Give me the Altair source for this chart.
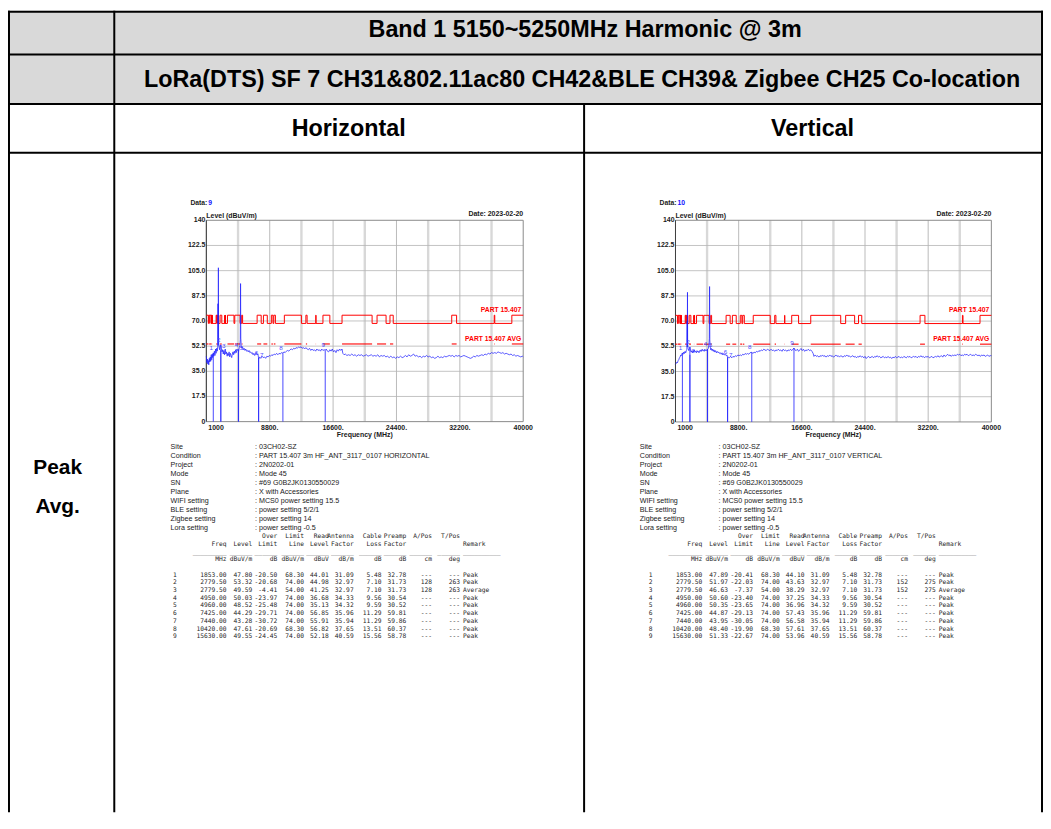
import altair as alt
import pandas as pd

# ---------------------------------------------------------------- data
TITLE_1 = "Band 1 5150~5250MHz Harmonic @ 3m"
TITLE_2 = "LoRa(DTS) SF 7 CH31&802.11ac80 CH42&BLE CH39& Zigbee CH25 Co-location"
POLARIZATIONS = ["Horizontal", "Vertical"]
DETECTORS = ["Peak", "Avg."]
DATA_IDS = ["9", "10"]
DATE_TEXT = "Date: 2023-02-20"
Y_LABEL = "Level (dBuV/m)"
X_LABEL = "Frequency (MHz)"
LIMIT_NAMES = ["PART 15.407", "PART 15.407 AVG"]

Y_TICKS = [0, 17.5, 35, 52.5, 70, 87.5, 105, 122.5, 140]
Y_TICK_LABELS = ["0", "17.5", "35.0", "52.5", "70.0", "87.5", "105.0", "122.5", "140"]
X_TICKS = [1000, 8800, 16600, 24400, 32200, 40000]
X_TICK_LABELS = ["1000", "8800.", "16600.", "24400.", "32200.", "40000"]
X_MINOR = [4900, 12700, 20500, 28300, 36100]
F_MIN, F_MAX, L_MIN, L_MAX = 1000, 40000, 0, 140

# restricted bands (MHz): 74 dBuV/m peak / 54 avg inside, 68.3 outside
RESTRICTED = [(960, 1240), (1300, 1427), (1435, 1626.5), (1645.5, 1646.5), (1660, 1710),
              (1718.8, 1722.2), (2200, 2300), (2310, 2390), (2483.5, 2500), (2690, 2900),
              (3260, 3267), (3332, 3339), (3345.8, 3358), (3600, 4400), (4500, 5150),
              (5350, 5460), (7250, 7750), (8025, 8500), (9000, 9200), (9300, 9500),
              (10600, 12700), (13250, 13400), (14470, 14500), (15350, 16200), (17700, 21400),
              (22010, 23120), (23600, 24000), (31200, 31800), (36430, 36500), (38600, 40000)]
LIMIT_IN, LIMIT_OUT, LIMIT_AVG = 74.0, 68.3, 54.0

INFO_LABELS = ["Site", "Condition", "Project", "Mode", "SN", "Plane", "WIFI setting",
               "BLE setting", "Zigbee setting", "Lora setting"]
INFO_H = ["03CH02-SZ", "PART 15.407 3m HF_ANT_3117_0107 HORIZONTAL", "2N0202-01", "Mode 45",
          "#69 G0B2JK0130550029", "X with  Accessories", "MCS0 power setting 15.5",
          "power setting 5/2/1", "power setting 14", "power setting -0.5"]
INFO_V = ["03CH02-SZ", "PART 15.407 3m HF_ANT_3117_0107 VERTICAL", "2N0202-01", "Mode 45",
          "#69 G0B2JK0130550029", "X with  Accessories", "MCS0 power setting 15.5",
          "power setting 5/2/1", "power setting 14", "power setting -0.5"]

HDR_1 = ["", "", "", "Over", "Limit", "Read", "Antenna", "Cable", "Preamp", "A/Pos", "T/Pos", ""]
HDR_2 = ["", "Freq", "Level", "Limit", "Line", "Level", "Factor", "Loss", "Factor", "", "", "    Remark"]
HDR_U = ["", "_________", "______", "______", "______", "______", "______", "______", "______",
         "______", "______", "__________"]
UNITS = ["", "MHz", "dBuV/m", "dB", "dBuV/m", "dBuV", "dB/m", "dB", "dB", "cm", "deg", ""]

MK_FREQ = [1853.00, 2779.50, 2779.50, 4950.00, 4960.00, 7425.00, 7440.00, 10420.00, 15630.00]
MK_CABLE = [5.48, 7.10, 7.10, 9.56, 9.59, 11.29, 11.29, 13.51, 15.56]
MK_PREAMP = [32.78, 31.73, 31.73, 30.54, 30.52, 59.81, 59.86, 60.37, 58.78]
MK_ANT = [31.09, 32.97, 32.97, 34.33, 34.32, 35.96, 35.94, 37.65, 40.59]
MK_LIMIT = [68.30, 74.00, 54.00, 74.00, 74.00, 74.00, 74.00, 68.30, 74.00]
MK_REMARK = ["Peak", "Peak", "Average", "Peak", "Peak", "Peak", "Peak", "Peak", "Peak"]

MK_H_LEVEL = [47.80, 53.32, 49.59, 50.03, 48.52, 44.29, 43.28, 47.61, 49.55]
MK_H_OVER = [-20.50, -20.68, -4.41, -23.97, -25.48, -29.71, -30.72, -20.69, -24.45]
MK_H_READ = [44.01, 44.98, 41.25, 36.68, 35.13, 56.85, 55.91, 56.82, 52.18]
MK_H_APOS = ["---", "128", "128", "---", "---", "---", "---", "---", "---"]
MK_H_TPOS = ["---", "263", "263", "---", "---", "---", "---", "---", "---"]

MK_V_LEVEL = [47.89, 51.97, 46.63, 50.60, 50.35, 44.87, 43.95, 48.40, 51.33]
MK_V_OVER = [-20.41, -22.03, -7.37, -23.40, -23.65, -29.13, -30.05, -19.90, -22.67]
MK_V_READ = [44.10, 43.63, 38.29, 37.25, 36.96, 57.43, 56.58, 57.61, 53.96]
MK_V_APOS = ["---", "152", "152", "---", "---", "---", "---", "---", "---"]
MK_V_TPOS = ["---", "275", "275", "---", "---", "---", "---", "---", "---"]

TRACE_H = [
    (1000, 45.5), (1060, 41.0), (1120, 43.5), (1180, 40.0), (1240, 42.5), (1300, 39.5),
    (1360, 44.0), (1420, 41.5), (1480, 45.0), (1540, 42.0), (1600, 46.5), (1660, 43.0),
    (1720, 47.0), (1780, 44.5), (1853, 47.8), (1920, 45.5), (1990, 49.0), (2060, 46.0),
    (2130, 50.5), (2200, 47.5), (2270, 51.0), (2340, 49.0), (2400, 52.0), (2430, 82.0),
    (2455, 53.0), (2480, 107.0), (2505, 56.0), (2560, 52.0), (2620, 50.0), (2700, 53.0),
    (2779.5, 53.3), (2850, 51.0), (2930, 48.5), (3000, 50.0), (3080, 47.0), (3160, 49.5),
    (3240, 46.5), (3320, 50.5), (3400, 47.0), (3480, 48.5), (3560, 45.5), (3640, 47.5),
    (3720, 46.0), (3800, 48.5), (3880, 45.0), (3960, 47.5), (4040, 46.0), (4120, 44.5),
    (4200, 47.0), (4280, 48.5), (4360, 46.5), (4440, 49.0), (4520, 47.5), (4600, 50.0),
    (4680, 48.0), (4760, 50.5), (4850, 49.5), (4950, 50.0), (4960, 48.5), (5050, 51.5),
    (5130, 53.0), (5180, 57.0), (5210, 96.0), (5240, 58.0), (5290, 53.0), (5350, 51.0),
    (5450, 52.0), (5550, 50.0), (5650, 51.0), (5750, 49.5), (5850, 50.5), (5950, 49.0),
    (6050, 49.5), (6150, 48.5), (6250, 49.5), (6350, 48.0), (6450, 48.5), (6550, 47.5),
    (6650, 48.0), (6750, 46.5), (6850, 47.5), (6950, 46.0), (7050, 47.0), (7150, 48.0),
    (7250, 46.5), (7350, 47.0), (7425, 44.3), (7440, 43.3), (7550, 45.0), (7700, 44.0),
    (7850, 45.5), (8000, 44.5), (8150, 45.0), (8300, 44.0), (8450, 45.5), (8600, 45.0),
    (8750, 46.0), (8900, 45.5), (9050, 46.5), (9200, 46.0), (9350, 47.0), (9500, 46.5),
    (9650, 47.5), (9800, 46.5), (9950, 47.5), (10100, 47.0), (10250, 48.0), (10420, 47.6),
    (10550, 48.5), (10700, 48.0), (10850, 49.0), (11000, 49.5), (11150, 49.0), (11300, 50.0),
    (11450, 50.5), (11600, 50.0), (11750, 51.0), (11900, 50.5), (12050, 51.5), (12200, 51.0),
    (12350, 52.0), (12500, 51.5), (12650, 52.0), (12800, 51.0), (12950, 51.5), (13100, 50.5),
    (13250, 51.5), (13400, 50.5), (13550, 50.0), (13700, 51.0), (13850, 49.5), (14000, 50.5),
    (14150, 49.5), (14300, 50.0), (14450, 49.0), (14600, 50.5), (14750, 49.5), (14900, 50.0),
    (15050, 49.0), (15200, 50.5), (15350, 49.5), (15500, 50.0), (15630, 49.6), (15750, 50.5),
    (15900, 49.0), (16050, 48.5), (16200, 50.0), (16350, 49.0), (16500, 50.5), (16650, 48.5),
    (16800, 49.5), (16950, 48.0), (17100, 50.0), (17250, 49.0), (17400, 50.5), (17550, 49.5),
    (17700, 50.5), (17800, 47.5), (17950, 46.5), (18100, 47.0), (18300, 46.0), (18500, 46.5),
    (18700, 46.0), (18900, 47.0), (19100, 46.0), (19300, 46.5), (19500, 45.5), (19700, 46.5),
    (19900, 46.0), (20100, 46.5), (20300, 45.5), (20500, 46.0), (20700, 46.5), (20900, 45.5),
    (21100, 46.0), (21300, 46.5), (21500, 45.5), (21700, 46.0), (21900, 45.5), (22100, 46.5),
    (22300, 45.0), (22500, 46.0), (22700, 45.5), (22900, 46.0), (23100, 45.0), (23300, 45.5),
    (23500, 44.5), (23700, 45.5), (23900, 44.5), (24100, 45.0), (24300, 44.0), (24500, 45.0),
    (24700, 44.5), (24900, 45.5), (25100, 44.5), (25300, 45.0), (25500, 46.0), (25700, 45.0),
    (25900, 46.5), (26100, 45.5), (26300, 46.0), (26500, 47.0), (26700, 45.5), (26900, 46.0),
    (27100, 45.0), (27300, 45.5), (27500, 44.5), (27700, 45.5), (27900, 45.0), (28100, 46.0),
    (28300, 45.0), (28500, 45.5), (28700, 44.5), (28900, 45.0), (29100, 44.0), (29300, 44.5),
    (29500, 45.5), (29700, 44.5), (29900, 45.0), (30100, 44.5), (30300, 45.5), (30500, 45.0),
    (30700, 45.5), (30900, 46.0), (31100, 45.5), (31300, 46.0), (31500, 45.0), (31700, 46.0),
    (31900, 45.5), (32100, 46.0), (32300, 45.0), (32500, 45.5), (32700, 46.0), (32900, 45.5),
    (33100, 45.0), (33300, 44.5), (33500, 44.0), (33700, 44.5), (33900, 45.5), (34100, 45.0),
    (34300, 46.0), (34500, 45.5), (34700, 46.0), (34900, 46.5), (35100, 46.0), (35300, 47.0),
    (35500, 46.5), (35700, 47.5), (35900, 47.0), (36100, 48.0), (36300, 47.5), (36500, 48.0),
    (36700, 47.5), (36900, 48.5), (37100, 48.0), (37300, 47.5), (37500, 48.0), (37700, 47.0),
    (37900, 47.5), (38100, 47.0), (38300, 46.5), (38500, 47.0), (38700, 46.0), (38900, 46.5),
    (39100, 45.5), (39300, 46.0), (39500, 45.5), (39700, 45.0), (39900, 45.5), (40000, 45.0),
]

TRACE_V = [
    (1000, 40.0), (1080, 40.5), (1160, 41.5), (1240, 41.0), (1320, 42.5), (1400, 43.0),
    (1480, 44.5), (1560, 45.0), (1640, 46.5), (1720, 46.0), (1853, 47.9), (1940, 47.0),
    (2020, 48.5), (2100, 47.5), (2180, 49.0), (2260, 48.0), (2340, 49.5), (2410, 50.5),
    (2440, 70.0), (2460, 52.0), (2480, 90.0), (2500, 55.0), (2560, 51.0), (2640, 49.5),
    (2720, 51.0), (2779.5, 52.0), (2860, 49.5), (2940, 48.5), (3020, 49.5), (3100, 48.0),
    (3180, 49.5), (3260, 48.5), (3340, 50.0), (3420, 48.5), (3500, 49.0), (3580, 48.0),
    (3660, 49.5), (3740, 48.5), (3820, 49.0), (3900, 48.0), (3980, 49.5), (4060, 49.0),
    (4140, 50.0), (4220, 49.0), (4300, 50.5), (4380, 49.5), (4460, 50.0), (4540, 49.0),
    (4620, 50.5), (4700, 49.5), (4780, 50.0), (4860, 49.5), (4950, 50.6), (4960, 50.4),
    (5050, 51.0), (5130, 53.5), (5180, 58.0), (5210, 94.0), (5240, 57.0), (5290, 52.0),
    (5360, 50.0), (5440, 51.0), (5520, 49.5), (5600, 50.5), (5680, 49.0), (5760, 50.0),
    (5850, 48.5), (5950, 49.5), (6050, 48.0), (6150, 49.0), (6250, 48.0), (6350, 48.5),
    (6450, 47.5), (6550, 48.0), (6650, 47.0), (6750, 48.0), (6850, 46.5), (6950, 47.5),
    (7050, 46.5), (7150, 47.0), (7250, 46.0), (7350, 46.5), (7425, 44.9), (7440, 44.0),
    (7550, 45.0), (7650, 44.5), (7800, 45.5), (7950, 44.5), (8100, 45.5), (8250, 45.0),
    (8400, 46.0), (8550, 45.5), (8700, 46.5), (8850, 46.0), (9000, 46.5), (9150, 46.0),
    (9300, 47.0), (9450, 46.5), (9600, 47.5), (9750, 47.0), (9900, 47.5), (10050, 47.0),
    (10200, 48.0), (10420, 48.4), (10550, 47.5), (10700, 48.5), (10850, 48.0), (11000, 49.0),
    (11150, 48.5), (11300, 49.5), (11450, 49.0), (11600, 50.0), (11750, 49.5), (11900, 50.5),
    (12050, 50.0), (12200, 49.5), (12350, 50.5), (12500, 50.0), (12650, 49.5), (12800, 50.5),
    (12950, 49.5), (13100, 50.0), (13250, 49.0), (13400, 50.0), (13550, 49.5), (13700, 50.5),
    (13850, 49.5), (14000, 50.0), (14150, 49.0), (14300, 50.5), (14450, 49.5), (14600, 50.0),
    (14750, 49.0), (14900, 50.0), (15050, 49.5), (15200, 50.5), (15350, 49.5), (15500, 50.5),
    (15630, 51.3), (15750, 50.0), (15900, 49.5), (16050, 50.5), (16200, 49.0), (16350, 50.0),
    (16500, 51.0), (16650, 49.5), (16800, 50.5), (16950, 49.0), (17100, 50.0), (17250, 49.5),
    (17400, 50.5), (17550, 49.5), (17700, 50.0), (17850, 49.0), (18000, 47.5), (18100, 45.5),
    (18250, 46.5), (18400, 45.5), (18550, 46.0), (18700, 45.0), (18850, 46.0), (19000, 45.5),
    (19150, 46.5), (19300, 45.5), (19450, 46.0), (19600, 45.0), (19750, 46.0), (19900, 45.5),
    (20050, 46.5), (20200, 45.5), (20350, 46.0), (20500, 45.0), (20650, 45.5), (20800, 46.5),
    (20950, 45.5), (21100, 46.0), (21250, 45.0), (21400, 46.0), (21550, 45.5), (21700, 45.0),
    (21850, 46.0), (22000, 45.5), (22150, 46.5), (22300, 45.5), (22450, 46.0), (22600, 45.0),
    (22750, 45.5), (22900, 46.0), (23050, 45.0), (23200, 45.5), (23350, 44.5), (23500, 45.5),
    (23650, 45.0), (23800, 46.0), (23950, 45.0), (24100, 45.5), (24250, 44.5), (24400, 45.5),
    (24550, 44.0), (24700, 45.0), (24850, 45.5), (25000, 44.5), (25150, 45.0), (25300, 45.5),
    (25450, 44.5), (25600, 45.5), (25750, 45.0), (25900, 46.0), (26050, 45.0), (26200, 45.5),
    (26350, 44.5), (26500, 45.0), (26650, 45.5), (26800, 44.5), (26950, 45.0), (27100, 44.5),
    (27250, 45.5), (27400, 44.5), (27550, 45.0), (27700, 44.0), (27850, 45.0), (28000, 44.5),
    (28150, 45.5), (28300, 44.5), (28450, 45.0), (28600, 45.5), (28750, 44.5), (28900, 45.0),
    (29050, 44.5), (29200, 45.5), (29350, 45.0), (29500, 44.5), (29650, 45.5), (29800, 45.0),
    (29950, 45.5), (30100, 44.5), (30250, 45.0), (30400, 45.5), (30550, 45.0), (30700, 45.5),
    (30850, 44.5), (31000, 45.5), (31150, 45.0), (31300, 46.0), (31450, 45.0), (31600, 45.5),
    (31750, 44.5), (31900, 45.5), (32050, 45.0), (32200, 45.5), (32350, 44.5), (32500, 45.0),
    (32650, 45.5), (32800, 44.5), (32950, 45.0), (33100, 45.5), (33250, 45.0), (33400, 46.0),
    (33550, 45.0), (33700, 45.5), (33850, 46.0), (34000, 45.0), (34150, 46.5), (34300, 45.5),
    (34450, 46.0), (34600, 47.0), (34750, 46.0), (34900, 46.5), (35050, 45.5), (35200, 46.5),
    (35350, 46.0), (35500, 46.5), (35650, 46.0), (35800, 47.0), (35950, 46.5), (36100, 47.0),
    (36250, 46.0), (36400, 46.5), (36550, 46.0), (36700, 47.0), (36850, 46.5), (37000, 47.0),
    (37150, 46.0), (37300, 46.5), (37450, 47.0), (37600, 46.0), (37750, 46.5), (37900, 46.0),
    (38050, 47.0), (38200, 46.5), (38350, 46.0), (38500, 46.5), (38650, 45.5), (38800, 46.5),
    (38950, 46.0), (39100, 46.5), (39250, 45.5), (39400, 46.0), (39550, 46.5), (39700, 45.5),
    (39850, 46.0), (40000, 46.0),
]

# ---------------------------------------------------------------- layout (page px)
W, H = 1042, 807
M = 8


def px(v):
    return v - M


FONT = "Liberation Sans"
MONO = "DejaVu Sans Mono"
GRAY_FILL = "#d9d9d9"
ROW_LINES = [3, 52, 102, 151]
COL_LINES = [2, 115, 1049]
MID_LINE = 588

PANELS = [
    dict(x0=207.7, x1=526.7, y0=219, y1=421.7, info_lx=171.7, info_vx=256.7, tab_dx=0),
    dict(x0=680.0, x1=998.0, y0=219, y1=422.0, info_lx=644.0, info_vx=723.3, tab_dx=479),
]
TAB_COLS_X = [178, 228, 254, 279, 306, 331, 356, 384, 409, 435, 463, 466]
TAB_ALIGN = ["right"] * 11 + ["left"]
# label nudges for markers that sit on (almost) the same frequency
MK_LEFT = [0, 1, 3, 5, 7, 8]
MK_RIGHT = [2, 4, 6]

layers = []

# ---------------------------------------------------------------- table frame
one = pd.DataFrame({"k": [0]})
layers.append(alt.Chart(one).mark_rect(color=GRAY_FILL).encode(
    x=alt.value(0), x2=alt.value(W), y=alt.value(0), y2=alt.value(px(ROW_LINES[2]))))
for yy in ROW_LINES:
    yv = max(px(yy), 1)
    layers.append(alt.Chart(one).mark_rule(color="black", strokeWidth=2).encode(
        x=alt.value(0), x2=alt.value(W), y=alt.value(yv)))
for xx in COL_LINES:
    xv = max(px(xx), 1)
    layers.append(alt.Chart(one).mark_rule(color="black", strokeWidth=2).encode(
        x=alt.value(xv), y=alt.value(0), y2=alt.value(H)))
layers.append(alt.Chart(one).mark_rule(color="black", strokeWidth=2).encode(
    x=alt.value(px(MID_LINE)), y=alt.value(px(ROW_LINES[2])), y2=alt.value(H)))


def label(text, x, y, size, align="center", weight="bold", color="black", font=FONT):
    return alt.Chart(pd.DataFrame({"t": [text]})).mark_text(
        align=align, baseline="middle", font=font, fontSize=size, fontWeight=weight,
        color=color).encode(x=alt.value(x), y=alt.value(y), text="t:N")


layers.append(label(TITLE_1, px(589), px(27.5), 23.5))
layers.append(label(TITLE_2, px(586), px(77.5), 23.5))
layers.append(label(POLARIZATIONS[0], px(351), px(127), 23.5))
layers.append(label(POLARIZATIONS[1], px(818), px(127), 23.5))
layers.append(label(DETECTORS[0], px(58), px(468), 21))
layers.append(label(DETECTORS[1], px(58), px(508), 21))


# ---------------------------------------------------------------- spectrum panel
def limit_segments():
    segs = []
    cur = F_MIN
    for a, b in RESTRICTED:
        a, b = max(a, F_MIN), min(b, F_MAX)
        if b <= a:
            continue
        if a > cur:
            segs.append((cur, a, LIMIT_OUT))
        segs.append((a, b, LIMIT_IN))
        cur = b
    if cur < F_MAX:
        segs.append((cur, F_MAX, LIMIT_OUT))
    return segs


def panel(P, trace, mk_level, data_id):
    xs = alt.Scale(domain=[F_MIN, F_MAX], range=[px(P["x0"]), px(P["x1"])], nice=False, zero=False)
    ys = alt.Scale(domain=[L_MIN, L_MAX], range=[px(P["y1"]), px(P["y0"])], nice=False, zero=False)

    def X(f):
        return alt.X(f, type="quantitative", scale=xs, axis=None)

    def Y(f):
        return alt.Y(f, type="quantitative", scale=ys, axis=None)

    L = []
    # grid
    L.append(alt.Chart(pd.DataFrame({"f": X_MINOR, "lo": L_MIN, "hi": L_MAX})).mark_rule(
        color="#d8d8d8", strokeWidth=2.4).encode(x=X("f"), y=Y("lo"), y2="hi:Q"))
    L.append(alt.Chart(pd.DataFrame({"f": X_TICKS[1:-1], "lo": L_MIN, "hi": L_MAX})).mark_rule(
        color="#a9a9a9", strokeWidth=0.8).encode(x=X("f"), y=Y("lo"), y2="hi:Q"))
    L.append(alt.Chart(pd.DataFrame({"v": Y_TICKS[1:-1], "a": F_MIN, "b": F_MAX})).mark_rule(
        color="#b5b5b5", strokeWidth=0.8).encode(y=Y("v"), x=X("a"), x2="b:Q"))
    # frame
    L.append(alt.Chart(pd.DataFrame({"a": [F_MIN], "b": [F_MAX], "lo": [L_MIN], "hi": [L_MAX]})).mark_rect(
        fillOpacity=0, stroke="#8a8a8a", strokeWidth=1).encode(x=X("a"), x2="b:Q", y=Y("lo"), y2="hi:Q"))
    L.append(alt.Chart(pd.DataFrame({"a": [F_MIN], "lo": [L_MIN], "hi": [L_MAX]})).mark_rule(
        color="#404040", strokeWidth=1).encode(x=X("a"), y=Y("lo"), y2="hi:Q"))
    # limits
    segs = limit_segments()
    avg = [(a, b) for a, b, lv in segs if lv == LIMIT_IN]
    L.append(alt.Chart(pd.DataFrame({"s": [a for a, b in avg], "e": [b for a, b in avg],
                                     "v": LIMIT_AVG})).mark_rule(
        color="#ff0000", strokeWidth=1.1).encode(x=X("s"), x2="e:Q", y=Y("v")))
    step = pd.DataFrame({"f": [s for s, e, lv in segs] + [F_MAX],
                         "l": [lv for s, e, lv in segs] + [segs[-1][2]]})
    L.append(alt.Chart(step).mark_line(interpolate="step-after", color="#ff0000", strokeWidth=1).encode(
        x=X("f"), y=Y("l")))
    # trace
    tr = pd.DataFrame({"f": [t[0] for t in trace], "l": [t[1] for t in trace]})
    L.append(alt.Chart(tr).mark_line(color="#1c1cff", strokeWidth=0.8, opacity=0.9).encode(
        x=X("f"), y=Y("l")))
    # markers
    mk = pd.DataFrame({"f": MK_FREQ, "l": mk_level, "z": 0.0,
                       "n": [str(i + 1) for i in range(len(MK_FREQ))]})
    L.append(alt.Chart(mk).mark_rule(color="#2a2aff", strokeWidth=1, opacity=0.85).encode(
        x=X("f"), y=Y("z"), y2="l:Q"))
    L.append(alt.Chart(mk.iloc[MK_LEFT]).mark_text(
        color="#4a4aff", fontSize=6.3, font=FONT, dx=-2, dy=-5).encode(
        x=X("f"), y=Y("l"), text="n:N"))
    L.append(alt.Chart(mk.iloc[MK_RIGHT]).mark_text(
        color="#4a4aff", fontSize=6.3, font=FONT, dx=3, dy=-4).encode(
        x=X("f"), y=Y("l"), text="n:N"))
    # limit names
    L.append(alt.Chart(pd.DataFrame({"f": [F_MAX, F_MAX], "v": [LIMIT_IN, LIMIT_AVG],
                                     "t": LIMIT_NAMES})).mark_text(
        align="right", baseline="middle", dx=-2, dy=-5, color="#ff0000", font=FONT,
        fontSize=6.8, fontWeight="bold").encode(x=X("f"), y=Y("v"), text="t:N"))
    # tick labels
    L.append(alt.Chart(pd.DataFrame({"f": F_MIN, "v": Y_TICKS, "t": Y_TICK_LABELS})).mark_text(
        align="right", baseline="middle", dx=-1, font=FONT, fontSize=7, fontWeight="bold",
        color="#1a1a1a").encode(x=X("f"), y=Y("v"), text="t:N"))
    L.append(alt.Chart(pd.DataFrame({"f": X_TICKS[:1], "v": L_MIN, "t": X_TICK_LABELS[:1]})).mark_text(
        align="left", baseline="top", dx=2, dy=2, font=FONT, fontSize=7, fontWeight="bold",
        color="#1a1a1a").encode(x=X("f"), y=Y("v"), text="t:N"))
    L.append(alt.Chart(pd.DataFrame({"f": X_TICKS[1:], "v": L_MIN, "t": X_TICK_LABELS[1:]})).mark_text(
        align="center", baseline="top", dy=2, font=FONT, fontSize=7, fontWeight="bold",
        color="#1a1a1a").encode(x=X("f"), y=Y("v"), text="t:N"))
    # titles
    L.append(alt.Chart(pd.DataFrame({"f": [(F_MIN + F_MAX) / 2], "v": [L_MIN], "t": [X_LABEL]})).mark_text(
        align="center", baseline="top", dy=9, font=FONT, fontSize=7, fontWeight="bold",
        color="#1a1a1a").encode(x=X("f"), y=Y("v"), text="t:N"))
    L.append(alt.Chart(pd.DataFrame({"f": [F_MIN], "v": [L_MAX], "t": [Y_LABEL]})).mark_text(
        align="left", baseline="bottom", dy=-1, font=FONT, fontSize=7, fontWeight="bold",
        color="#1a1a1a").encode(x=X("f"), y=Y("v"), text="t:N"))
    L.append(alt.Chart(pd.DataFrame({"f": [F_MAX], "v": [L_MAX], "t": [DATE_TEXT]})).mark_text(
        align="right", baseline="bottom", dy=-3, font=FONT, fontSize=7, fontWeight="bold",
        color="#1a1a1a").encode(x=X("f"), y=Y("v"), text="t:N"))
    L.append(alt.Chart(pd.DataFrame({"f": [F_MIN], "v": [L_MAX], "t": ["Data:"]})).mark_text(
        align="left", baseline="bottom", dx=-16, dy=-14, font=FONT, fontSize=6.8, fontWeight="bold",
        color="#1a1a1a").encode(x=X("f"), y=Y("v"), text="t:N"))
    L.append(alt.Chart(pd.DataFrame({"f": [F_MIN], "v": [L_MAX], "t": [data_id]})).mark_text(
        align="left", baseline="bottom", dx=2, dy=-14, font=FONT, fontSize=6.8, fontWeight="bold",
        color="#1010ff").encode(x=X("f"), y=Y("v"), text="t:N"))
    return alt.layer(*L)


def info_block(P, values):
    df = pd.DataFrame({"line": list(range(len(INFO_LABELS))), "lab": INFO_LABELS,
                       "val": [": " + v for v in values]})
    ysc = alt.Scale(domain=[0, len(INFO_LABELS) - 1], range=[px(447), px(528.5)], nice=False, zero=False)
    base = alt.Chart(df)
    a = base.mark_text(align="left", baseline="middle", font=FONT, fontSize=7.2, color="#1a1a1a").encode(
        x=alt.value(px(P["info_lx"])), y=alt.Y("line:Q", scale=ysc, axis=None), text="lab:N")
    b = base.mark_text(align="left", baseline="middle", font=FONT, fontSize=7.2, color="#1a1a1a").encode(
        x=alt.value(px(P["info_vx"])), y=alt.Y("line:Q", scale=ysc, axis=None), text="val:N")
    return [a, b]


def fmt(vals):
    return [v if isinstance(v, str) else f"{v:.2f}" for v in vals]


def table_block(P, level, over, read, apos, tpos):
    cols = [[str(i + 1) for i in range(len(MK_FREQ))], fmt(MK_FREQ), fmt(level), fmt(over),
            fmt(MK_LIMIT), fmt(read), fmt(MK_ANT), fmt(MK_CABLE), fmt(MK_PREAMP), apos, tpos,
            MK_REMARK]
    out = []
    ysc = alt.Scale(domain=[0, 13], range=[px(537), px(637.75)], nice=False, zero=False)
    for ci, col in enumerate(cols):
        lines = [0, 1, 2, 3] + list(range(5, 5 + len(col)))
        texts = [HDR_1[ci], HDR_2[ci], HDR_U[ci], UNITS[ci]] + col
        df = pd.DataFrame({"line": lines, "t": texts})
        df = df[df["t"] != ""]
        out.append(alt.Chart(df).mark_text(
            align=TAB_ALIGN[ci], baseline="middle", font=MONO, fontSize=6.3, color="#262626").encode(
            x=alt.value(px(TAB_COLS_X[ci] + P["tab_dx"])),
            y=alt.Y("line:Q", scale=ysc, axis=None), text="t:N"))
    return out


layers.append(panel(PANELS[0], TRACE_H, MK_H_LEVEL, DATA_IDS[0]))
layers.append(panel(PANELS[1], TRACE_V, MK_V_LEVEL, DATA_IDS[1]))
layers += info_block(PANELS[0], INFO_H)
layers += info_block(PANELS[1], INFO_V)
layers += table_block(PANELS[0], MK_H_LEVEL, MK_H_OVER, MK_H_READ, MK_H_APOS, MK_H_TPOS)
layers += table_block(PANELS[1], MK_V_LEVEL, MK_V_OVER, MK_V_READ, MK_V_APOS, MK_V_TPOS)

chart = alt.layer(*layers).resolve_scale(x="independent", y="independent").properties(
    width=W, height=H, padding=0, autosize=alt.AutoSizeParams(type="none")
).configure_view(strokeWidth=0)

chart.save("out.html", embed_options={"renderer": "svg", "actions": False})
